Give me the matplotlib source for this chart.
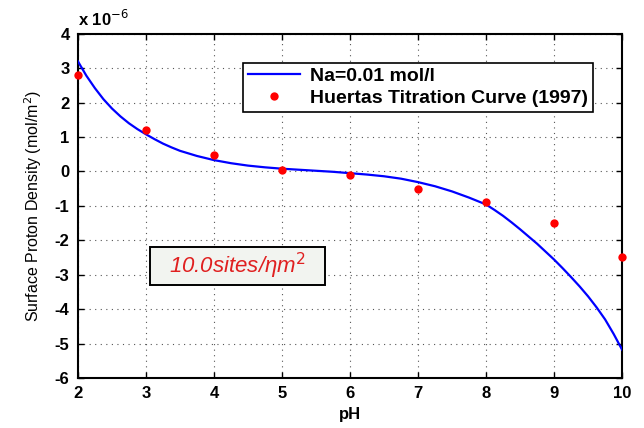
import matplotlib
matplotlib.use("Agg")
import matplotlib.pyplot as plt
from matplotlib.patches import Rectangle

# Model curve (Na=0.01 mol/l), values in units of 1e-6 mol/m^2
curve_ph = [2.0, 2.125, 2.25, 2.375, 2.5, 2.625, 2.75, 2.875, 3.0, 3.125, 3.25, 3.375,
            3.5, 3.75, 4.0, 4.25, 4.5, 4.75, 5.0, 5.25, 5.5, 5.75, 6.0, 6.25, 6.5, 6.75,
            7.0, 7.25, 7.5, 7.75, 8.0, 8.125, 8.25, 8.375, 8.5, 8.625, 8.75, 8.875,
            9.0, 9.125, 9.25, 9.375, 9.5, 9.625, 9.75, 9.875, 10.0]
curve_sigma = [3.2, 2.78, 2.42, 2.1, 1.83, 1.6, 1.4, 1.23, 1.08, 0.94, 0.81, 0.7,
               0.6, 0.45, 0.33, 0.24, 0.17, 0.12, 0.08, 0.05, 0.02, -0.01, -0.05, -0.09,
               -0.14, -0.21, -0.31, -0.43, -0.58, -0.76, -0.96, -1.12, -1.29, -1.48,
               -1.68, -1.89, -2.1, -2.33, -2.56, -2.81, -3.07, -3.34, -3.63, -3.95,
               -4.3, -4.72, -5.18]

# Huertas titration data (1997)
data_ph = [2, 3, 4, 5, 6, 7, 8, 9, 10]
data_sigma = [2.8, 1.2, 0.49, 0.04, -0.11, -0.5, -0.9, -1.5, -2.5]

x_ticks = [2, 3, 4, 5, 6, 7, 8, 9, 10]
y_ticks = [-6, -5, -4, -3, -2, -1, 0, 1, 2, 3, 4]

plt.rcParams['font.family'] = ['Liberation Sans', 'DejaVu Sans']

fig = plt.figure(figsize=(6.44, 4.28), dpi=100)
ax = fig.add_axes([0.121, 0.117, 0.845, 0.804])

ax.plot(curve_ph, curve_sigma, color='#0000ff', lw=1.6, label='Na=0.01 mol/l', zorder=3)
ax.plot(data_ph, data_sigma, 'o', color='#ff0000', ms=6, mec='none',
        label='Huertas Titration Curve (1997)', zorder=4, clip_on=False)

ax.set_xlim(2, 10)
ax.set_ylim(-6, 4)
ax.set_xticks(x_ticks)
ax.set_yticks(y_ticks)
ax.set_xticklabels([str(v) for v in x_ticks], fontweight='bold', fontsize=12)
ax.set_yticklabels([str(v) for v in y_ticks], fontweight='bold', fontsize=12)
ax.tick_params(direction='in', length=4, width=1, pad=6)
ax.tick_params(axis='both', which='both', top=True, right=True)
ax.grid(True, linestyle=(0, (1, 4)), color='#555555', lw=0.8)
for s in ax.spines.values():
    s.set_linewidth(1.5)

ax.set_xlabel('pH', fontweight='bold', fontsize=12, labelpad=4)
ax.set_ylabel('Surface Proton Density (mol/m$^2$)', fontsize=11.5, labelpad=8)

ax.text(0.0, 1.015, 'x 10$^{-6}$', transform=ax.transAxes, fontsize=12,
        fontweight='bold', ha='left', va='bottom')

leg = ax.legend(loc='upper left', bbox_to_anchor=(0.303, 0.916), frameon=True,
                fancybox=False, edgecolor='black', framealpha=1, borderaxespad=0,
                prop={'weight': 'bold', 'size': 14}, handlelength=2.7,
                borderpad=0.25, labelspacing=0.2, handletextpad=0.5)
leg.get_frame().set_linewidth(1.2)

box = Rectangle((0.132, 0.270), 0.322, 0.111, transform=ax.transAxes,
                facecolor='#f2f4f0', edgecolor='black', lw=1.4, zorder=5)
ax.add_patch(box)
ax.text(0.293, 0.3255, '10.0sites/\u03b7m$^2$', transform=ax.transAxes, fontsize=16,
        style='italic', color='#e02020', ha='center', va='center', zorder=6)

fig.savefig('out.png', dpi=100)
